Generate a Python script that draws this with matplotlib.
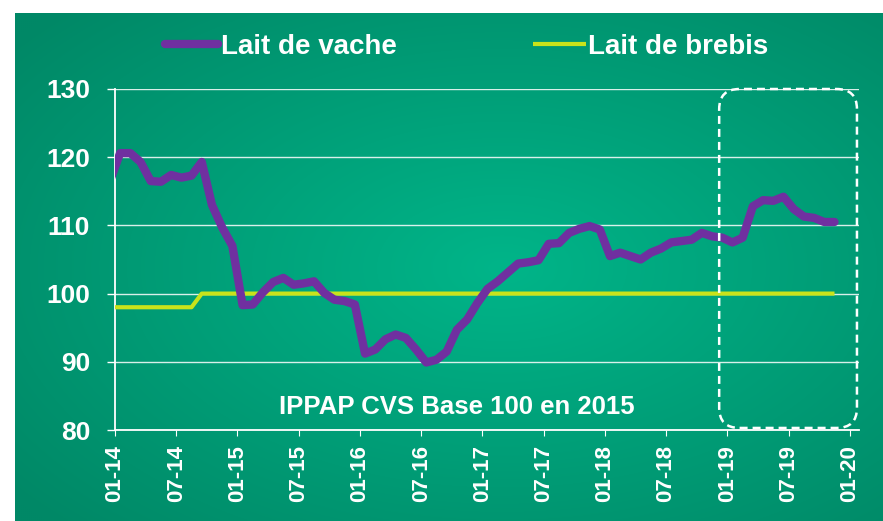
import numpy as np
import matplotlib.pyplot as plt
from matplotlib.patches import FancyBboxPatch

plt.rcParams['font.family'] = ['Liberation Sans', 'DejaVu Sans']

# monthly indices, from 12-13 to 11-19 (the first point sits just left of the axis)
vache = [116.5, 120.6, 120.6, 119.3, 116.5, 116.4, 117.4, 117.0, 117.3, 119.3,
         113.0, 109.7, 107.0, 98.3, 98.4, 100.2, 101.7, 102.3, 101.3, 101.5,
         101.8, 100.1, 99.1, 98.9, 98.4, 91.2, 91.8, 93.3, 94.0, 93.5,
         91.8, 89.9, 90.3, 91.5, 94.7, 96.2, 98.6, 100.7, 101.8, 103.1,
         104.4, 104.6, 104.9, 107.3, 107.4, 108.9, 109.5, 109.9, 109.4, 105.5,
         106.0, 105.5, 105.0, 106.0, 106.6, 107.5, 107.7, 107.9, 108.9, 108.4,
         108.2, 107.5, 108.2, 112.8, 113.7, 113.6, 114.2, 112.4, 111.3, 111.1,
         110.5, 110.5]

brebis = [98.0, 98.0, 98.0, 98.0, 98.0, 98.0, 98.0, 98.0, 98.0, 100.0, 100.0, 100.0,
          100.0, 100.0, 100.0, 100.0, 100.0, 100.0, 100.0, 100.0, 100.0, 100.0, 100.0, 100.0,
          100.0, 100.0, 100.0, 100.0, 100.0, 100.0, 100.0, 100.0, 100.0, 100.0, 100.0, 100.0,
          100.0, 100.0, 100.0, 100.0, 100.0, 100.0, 100.0, 100.0, 100.0, 100.0, 100.0, 100.0,
          100.0, 100.0, 100.0, 100.0, 100.0, 100.0, 100.0, 100.0, 100.0, 100.0, 100.0, 100.0,
          100.0, 100.0, 100.0, 100.0, 100.0, 100.0, 100.0, 100.0, 100.0, 100.0, 100.0, 100.0]

x_labels = ['01-14', '07-14', '01-15', '07-15', '01-16', '07-16', '01-17',
            '07-17', '01-18', '07-18', '01-19', '07-19', '01-20']
y_ticks = [80, 90, 100, 110, 120, 130]

x = np.arange(len(vache)) - 0.5

W, H = 883, 521
fig = plt.figure(figsize=(W / 100, H / 100), dpi=100)

# green background with a soft radial gradient
bg = fig.add_axes([15 / W, 0, 1 - 15 / W, 1 - 13 / H])
h, w = 254, 434
yy, xx = np.mgrid[0:h, 0:w]
d = np.sqrt(((xx - 0.56 * w) / w) ** 2 + ((yy - 0.5 * h) / h) ** 2)
t = np.clip(d / 0.72, 0, 1)[..., None]
c_mid = np.array([0, 181, 137]) / 255
c_edge = np.array([0, 136, 102]) / 255
bg.imshow(c_mid * (1 - t) + c_edge * t, aspect='auto', interpolation='bilinear')
bg.axis('off')

ax = fig.add_axes([115 / W, 1 - 430 / H, (859 - 115) / W, (430 - 89) / H])
ax.patch.set_alpha(0)

ax.plot(x, brebis, color='#C9E31B', lw=3, solid_capstyle='butt', zorder=3, label='Lait de brebis')
ax.plot(x, vache, color='#7030A0', lw=6, solid_capstyle='round', solid_joinstyle='round',
        zorder=4, label='Lait de vache')

ax.set_xlim(0, 72.9)
ax.set_ylim(80, 130)
ax.set_yticks(y_ticks)
ax.set_xticks(np.arange(len(x_labels)) * 6)
ax.set_xticklabels(x_labels, rotation=90)

ax.yaxis.grid(True, color='white', lw=1, alpha=0.85)
ax.set_axisbelow(True)
for s in ['top', 'right']:
    ax.spines[s].set_visible(False)
for s in ['left', 'bottom']:
    ax.spines[s].set_color('white')
    ax.spines[s].set_linewidth(1.3)

ax.tick_params(axis='y', colors='white', length=6, width=1, pad=12, labelsize=19)
ax.tick_params(axis='x', colors='white', length=4, width=0.8, pad=7, labelsize=16)
for lab in ax.get_xticklabels() + ax.get_yticklabels():
    lab.set_fontweight('bold')

# dashed frame around 2019
box = FancyBboxPatch((59.2, 80.3), 13.5, 49.7,
                     boxstyle='round,pad=0,rounding_size=2', mutation_aspect=1.47,
                     fill=False, edgecolor='white', lw=1.8, linestyle=(0, (3.2, 2)),
                     zorder=5, clip_on=False)
ax.add_patch(box)

fig.text(457 / W, 1 - 407 / H, 'IPPAP CVS Base 100 en 2015', color='white',
         fontsize=18.5, fontweight='bold', ha='center', va='center')

handles, labels = ax.get_legend_handles_labels()
fig.legend(handles[::-1], labels[::-1], loc='center', bbox_to_anchor=(467 / W, 1 - 47 / H),
           ncol=2, frameon=False, prop={'weight': 'bold', 'size': 20}, labelcolor='white',
           handlelength=1.9, handletextpad=0.1, columnspacing=4.9)

fig.savefig('out.png', dpi=100)
